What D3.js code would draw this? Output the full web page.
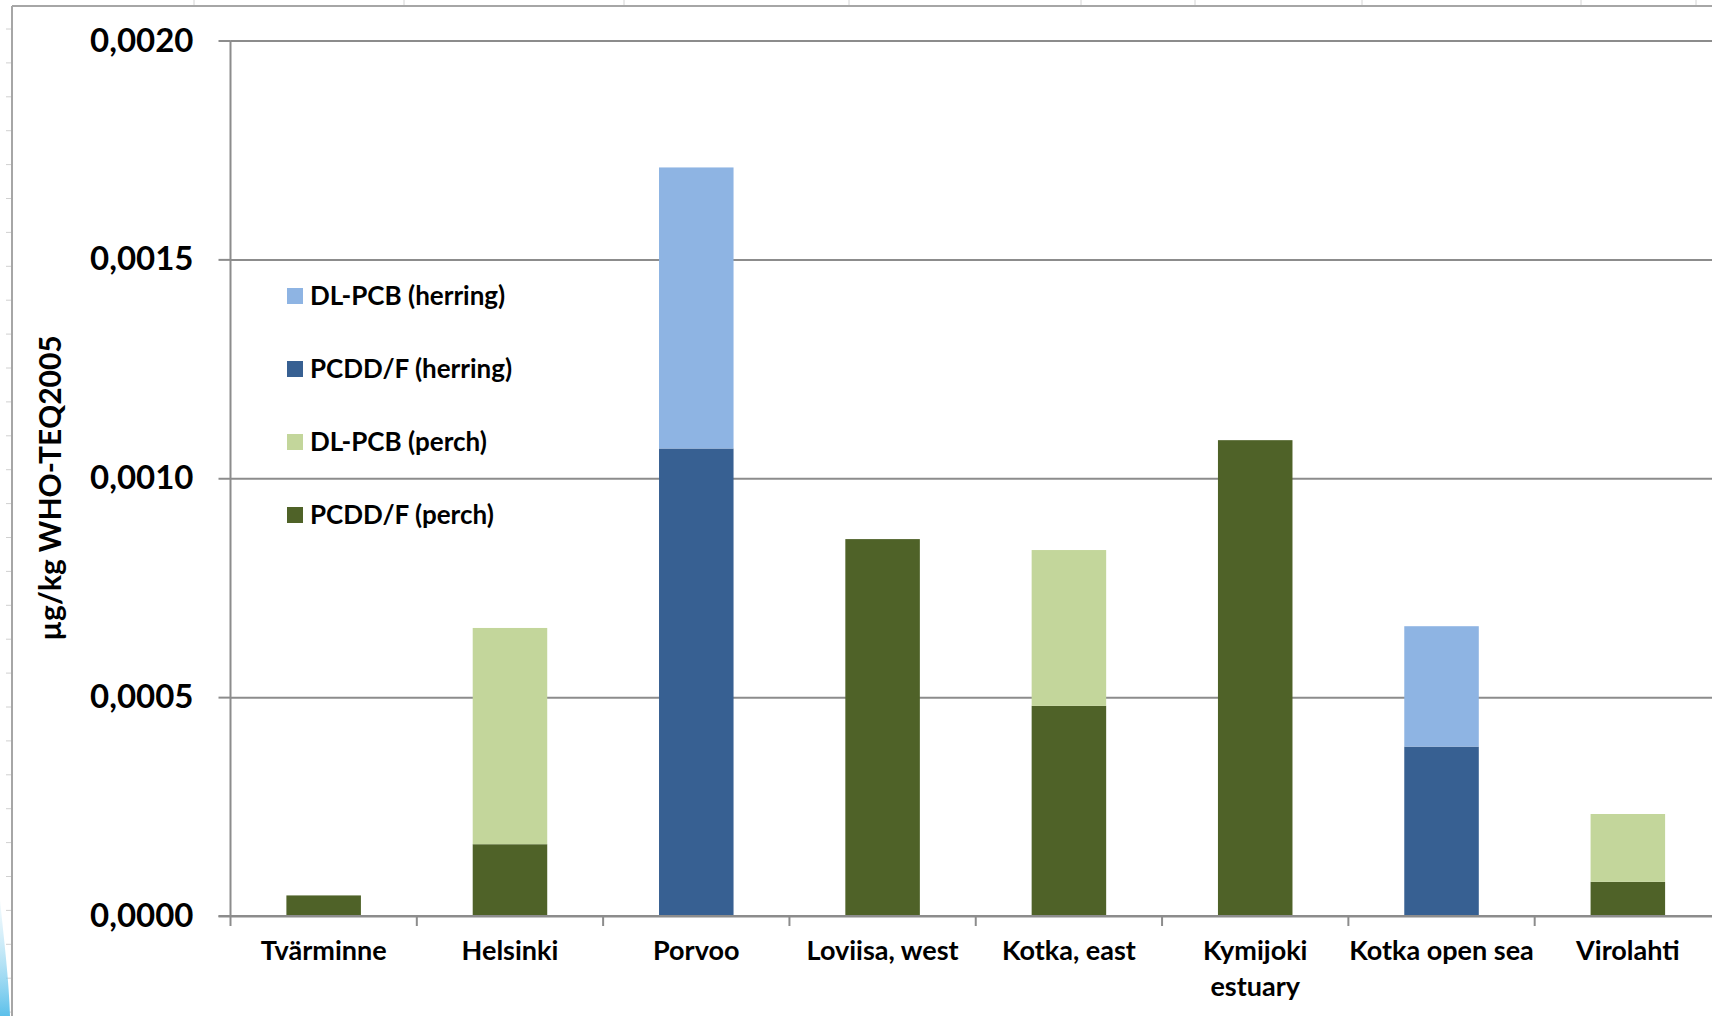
<!DOCTYPE html>
<html>
<head>
<meta charset="utf-8">
<script src="https://cdn.jsdelivr.net/npm/d3@7"></script>
<style>
  html, body { margin: 0; padding: 0; background: #fff; }
  svg { display: block; font-family: Lato, "Open Sans", sans-serif; font-weight: 700; }
</style>
</head>
<body>
<div id="container"></div>
<script>
// sites along the coast, west to east
const sites = ["Tvärminne", "Helsinki", "Porvoo", "Loviisa, west", "Kotka, east", "Kymijoki estuary", "Kotka open sea", "Virolahti"];
const siteLines = [["Tvärminne"], ["Helsinki"], ["Porvoo"], ["Loviisa, west"], ["Kotka, east"], ["Kymijoki", "estuary"], ["Kotka open sea"], ["Virolahti"]];

// µg/kg WHO-TEQ2005
const pcddPerch   = [0.000047, 0.000164, 0, 0.000861, 0.000480, 0.001087, 0, 0.000078];
const dlpcbPerch  = [0, 0.000494, 0, 0, 0.000356, 0, 0, 0.000155];
const pcddHerring = [0, 0, 0.001068, 0, 0, 0, 0.000387, 0];
const dlpcbHerring = [0, 0, 0.000642, 0, 0, 0, 0.000275, 0];

const seriesNames = ["PCDD/F (perch)", "DL-PCB (perch)", "PCDD/F (herring)", "DL-PCB (herring)"];
const seriesColors = ["#4f6228", "#c3d69b", "#376092", "#8eb4e3"];
const yTicks = [0, 0.0005, 0.0010, 0.0015, 0.0020];

const width = 1712;
const height = 1016;
const margin = { top: 40.5, left: 230.5, bottom: 916, right: 1721 };

const svg = d3.select("#container").append("svg")
  .attr("width", width)
  .attr("height", height);

// sheet frame behind the chart
const frame = svg.append("g").attr("class", "frame");
frame.selectAll("line.col")
  .data([194, 404, 624, 849, 1081, 1195, 1362, 1581, 1696])
  .enter().append("line")
  .attr("x1", d => d).attr("x2", d => d)
  .attr("y1", 0).attr("y2", 6)
  .attr("stroke", "#d4d4d4").attr("stroke-width", 1);
frame.selectAll("line.row")
  .data(d3.range(29, 1016, 33.9))
  .enter().append("line")
  .attr("x1", 6).attr("x2", 11)
  .attr("y1", d => d).attr("y2", d => d)
  .attr("stroke", "#d0d0d0").attr("stroke-width", 1);
const glow = svg.append("defs").append("linearGradient")
  .attr("id", "glow").attr("x1", 0).attr("y1", 0).attr("x2", 0).attr("y2", 1);
glow.append("stop").attr("offset", "0%").attr("stop-color", "#bfe6f6").attr("stop-opacity", 0.2);
glow.append("stop").attr("offset", "100%").attr("stop-color", "#5cc0ea");
frame.append("path")
  .attr("d", "M0,900 C4,940 9,980 10,1016 L0,1016 Z")
  .attr("fill", "url(#glow)");
frame.append("line")
  .attr("x1", 12).attr("x2", width).attr("y1", 6).attr("y2", 6)
  .attr("stroke", "#a6a6a6").attr("stroke-width", 2);
frame.append("line")
  .attr("x1", 12).attr("x2", 12).attr("y1", 6).attr("y2", height)
  .attr("stroke", "#a6a6a6").attr("stroke-width", 2);

const x = d3.scaleBand()
  .domain(sites)
  .range([margin.left, margin.right])
  .paddingInner(0.6)
  .paddingOuter(0.3);

const y = d3.scaleLinear()
  .domain([0, 0.002])
  .range([margin.bottom, margin.top]);

const locale = d3.formatLocale({ decimal: ",", thousands: " ", grouping: [3], currency: ["", "€"] });
const fmt = locale.format(".4f");

// gridlines + y axis
const yAxis = svg.append("g")
  .attr("transform", `translate(${margin.left},0)`)
  .call(d3.axisLeft(y).tickValues(yTicks).tickFormat(fmt).tickSize(12).tickPadding(25))
  .call(g => g.select(".domain").remove());
yAxis.selectAll(".tick line").attr("stroke", "#8c8c8c").attr("stroke-width", 2);
yAxis.selectAll(".tick").append("line")
  .attr("x1", 0).attr("x2", width - margin.left)
  .attr("stroke", "#8c8c8c").attr("stroke-width", 2);
yAxis.selectAll(".tick text")
  .attr("font-size", 33).attr("font-weight", 700).attr("fill", "#000")
  .attr("font-family", "Lato, sans-serif");

// stacked bars
const rows = sites.map((s, i) => ({
  site: s,
  "PCDD/F (perch)": pcddPerch[i],
  "DL-PCB (perch)": dlpcbPerch[i],
  "PCDD/F (herring)": pcddHerring[i],
  "DL-PCB (herring)": dlpcbHerring[i]
}));
const stacked = d3.stack().keys(seriesNames)(rows);

svg.append("g")
  .selectAll("g")
  .data(stacked)
  .enter().append("g")
  .attr("fill", (d, i) => seriesColors[i])
  .selectAll("rect")
  .data(d => d.filter(p => p[1] - p[0] > 0))
  .enter().append("rect")
  .attr("x", d => x(d.data.site))
  .attr("width", x.bandwidth())
  .attr("y", d => y(d[1]))
  .attr("height", d => y(d[0]) - y(d[1]));

// axis lines
svg.append("line")
  .attr("x1", margin.left).attr("x2", margin.left)
  .attr("y1", margin.top).attr("y2", margin.bottom)
  .attr("stroke", "#8c8c8c").attr("stroke-width", 2);
svg.append("line")
  .attr("x1", margin.left - 12).attr("x2", width)
  .attr("y1", margin.bottom).attr("y2", margin.bottom)
  .attr("stroke", "#8c8c8c").attr("stroke-width", 2);

// category boundaries below the axis
const step = x.step();
svg.append("g")
  .selectAll("line")
  .data(d3.range(sites.length + 1))
  .enter().append("line")
  .attr("x1", i => margin.left + i * step)
  .attr("x2", i => margin.left + i * step)
  .attr("y1", margin.bottom).attr("y2", margin.bottom + 10)
  .attr("stroke", "#8c8c8c").attr("stroke-width", 2);

// category labels
const labels = svg.append("g")
  .selectAll("text")
  .data(sites)
  .enter().append("text")
  .attr("x", d => x(d) + x.bandwidth() / 2)
  .attr("y", 960)
  .attr("text-anchor", "middle")
  .attr("font-size", 27)
  .attr("fill", "#000");
labels.selectAll("tspan")
  .data((d, i) => siteLines[i])
  .enter().append("tspan")
  .attr("x", function() { return this.parentNode.getAttribute("x"); })
  .attr("dy", (d, i) => i === 0 ? 0 : 36)
  .text(d => d);

// y title
svg.append("text")
  .attr("transform", "translate(61,488) rotate(-90)")
  .attr("text-anchor", "middle")
  .attr("font-size", 30)
  .attr("fill", "#000")
  .text("µg/kg WHO-TEQ2005");

// legend, top series first
const legendOrder = seriesNames.slice().reverse();
const legendColors = seriesColors.slice().reverse();
const legend = svg.append("g")
  .selectAll("g")
  .data(legendOrder)
  .enter().append("g")
  .attr("transform", (d, i) => `translate(287,${296 + i * 73})`);
legend.append("rect")
  .attr("x", 0).attr("y", -8)
  .attr("width", 16).attr("height", 16)
  .attr("fill", (d, i) => legendColors[i]);
legend.append("text")
  .attr("x", 23).attr("y", 0)
  .attr("dy", "0.35em")
  .attr("font-size", 26)
  .attr("fill", "#000")
  .text(d => d);
</script>
</body>
</html>
